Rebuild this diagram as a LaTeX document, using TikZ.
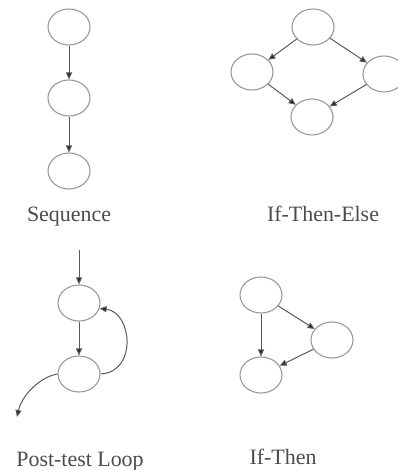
\documentclass[tikz,border=0pt]{standalone}
\usepackage{fontspec}
\setmainfont{Liberation Serif}
\usetikzlibrary{shapes.geometric,arrows.meta}
\begin{document}
\begin{tikzpicture}[x=1bp,y=-1bp,
  state/.style={ellipse,draw=black!40,line width=1.1bp,minimum width=42bp,minimum height=36bp,inner sep=0pt},
  flow/.style={draw=black!65,line width=1bp,-{Triangle[length=7bp,width=6bp,fill=black!85]},shorten >=0pt},
  caption/.style={anchor=base,font=\fontsize{22}{24}\selectfont,text=black!70}]
\useasboundingbox (0,0) rectangle (397,470);
% Sequence
\node[state] (s1) at (69,27) {};
\node[state] (s2) at (69,98) {};
\node[state] (s3) at (69,171) {};
\draw[flow] (s1) -- (s2);
\draw[flow] (s2) -- (s3);
\node[caption] (lseq) at (69,222) {Sequence};
% If-Then-Else
\node[state] (t) at (313,27) {};
\node[state] (l) at (252,72) {};
\node[state] (r) at (384,74) {};
\node[state] (b) at (312,117) {};
\draw[flow] (t) -- (l);
\draw[flow] (t) -- (r);
\draw[flow] (l) -- (b);
\draw[flow] (r) -- (b);
\node[caption] (lite) at (323,222) {If-Then-Else};
% Post-test loop
\coordinate (in) at (79,250);
\coordinate (out) at (17,417);
\node[state] (p1) at (79,303) {};
\node[state] (p2) at (79,374) {};
\draw[flow] (in) -- (p1);
\draw[flow] (p1) -- (p2);
\draw[flow] (p2.east) .. controls (138,372) and (132,312) .. (p1.-15);
\draw[flow] (p2.west) .. controls (40,377) and (22,395) .. (out);
\node[caption] (lptl) at (80,466) {Post-test Loop};
% If-Then
\node[state] (a) at (261,295) {};
\node[state] (c) at (332,340) {};
\node[state] (d) at (261,375) {};
\draw[flow] (a) -- (d);
\draw[flow] (a) -- (c);
\draw[flow] (c) -- (d);
\node[caption] (lit) at (283,464) {If-Then};
\end{tikzpicture}
\end{document}
